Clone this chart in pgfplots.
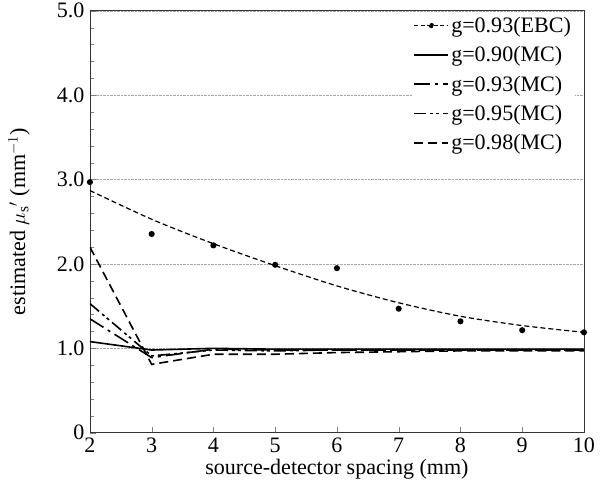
\documentclass[border=0pt]{standalone}
\usepackage{pgfplots}
\pgfplotsset{compat=1.18}
\usepackage{fontspec}
\setmainfont{Liberation Serif}
\begin{document}
\begin{tikzpicture}
\begin{axis}[
  scale only axis, width=493pt, height=421pt,
  xmin=2, xmax=10, ymin=0, ymax=5,
  xtick={2,3,4,5,6,7,8,9,10},
  ytick={0,1,2,3,4,5},
  yticklabels={0,1.0,2.0,3.0,4.0,5.0},
  minor y tick num=4,
  tick pos=left, tick align=inside,
  major tick length=6pt, minor tick length=4pt,
  ymajorgrids, grid style={densely dotted, gray!70, line width=0.5pt},
  axis line style={line width=0.8pt, black!80},
  /pgf/number format/assume math mode=true,
  ticklabel style={font=\fontsize{22}{24}\selectfont},
  xticklabel style={yshift=-2pt},
  yticklabel style={xshift=-2pt},
  xlabel={source-detector spacing (mm)},
  ylabel={estimated $\mu_{\mathrm{s}}{}'$ (mm$^{-1}$)},
  label style={font=\fontsize{22}{24}\selectfont},
  xlabel style={yshift=1pt},
  ylabel style={yshift=20pt},
  legend style={at={(0.982,0.995)}, anchor=north east, draw=none, fill=white,
    font=\fontsize{22}{24}\selectfont, row sep=8.5pt, inner sep=2pt},
  legend cell align=left,
  legend image code/.code={\draw[#1] (0pt,0pt) -- (34pt,0pt);},
  every axis plot/.append style={line width=1.6pt},
]
\addlegendimage{line width=1.2pt, dash pattern=on 4pt off 2.5pt,
  legend image code/.code={\draw[line width=1.2pt, dash pattern=on 4pt off 2.5pt] (0pt,0pt) -- (34pt,0pt); \fill (17pt,0pt) circle (2pt);}}
\addlegendentry{g=0.93(EBC)}
\addplot[black, line width=1.2pt, dash pattern=on 5pt off 3pt, smooth, forget plot] coordinates {
(2,2.87) (3,2.53) (4,2.24) (5,1.98) (6,1.74) (7,1.54) (8,1.38) (9,1.27) (10,1.19)};
\addplot[black, only marks, mark=*, mark size=2.2pt, forget plot] coordinates {
(2,2.97) (3,2.355) (4,2.22) (5,1.99) (6,1.95) (7,1.47) (8,1.32) (9,1.215) (10,1.19)};
\addplot[black, solid] coordinates {
(2,1.08) (3,0.98) (4,1.00) (5,0.99) (6,0.99) (7,0.99) (8,0.99) (9,0.99) (10,0.99)};
\addlegendentry{g=0.90(MC)}
\addplot[black, dash pattern=on 16pt off 5pt on 3pt off 5pt] coordinates {
(2,1.35) (3,0.89) (4,0.99) (5,0.98) (6,0.98) (7,0.98) (8,0.98) (9,0.98) (10,0.98)};
\addlegendentry{g=0.93(MC)}
\addplot[black, dash pattern=on 12pt off 4pt on 3pt off 3pt on 3pt off 4pt] coordinates {
(2,1.53) (3,0.91) (4,0.98) (5,0.97) (6,0.98) (7,0.98) (8,0.98) (9,0.98) (10,0.98)};
\addlegendentry{g=0.95(MC)}
\addplot[black, dash pattern=on 9pt off 5pt] coordinates {
(2,2.20) (3,0.81) (4,0.93) (5,0.93) (6,0.95) (7,0.96) (8,0.97) (9,0.97) (10,0.97)};
\addlegendentry{g=0.98(MC)}
\end{axis}
\path ([xshift=-5pt]current axis.outer west) ([xshift=23pt]current axis.south east) ([yshift=-6pt]current axis.outer south);
\end{tikzpicture}
\end{document}
